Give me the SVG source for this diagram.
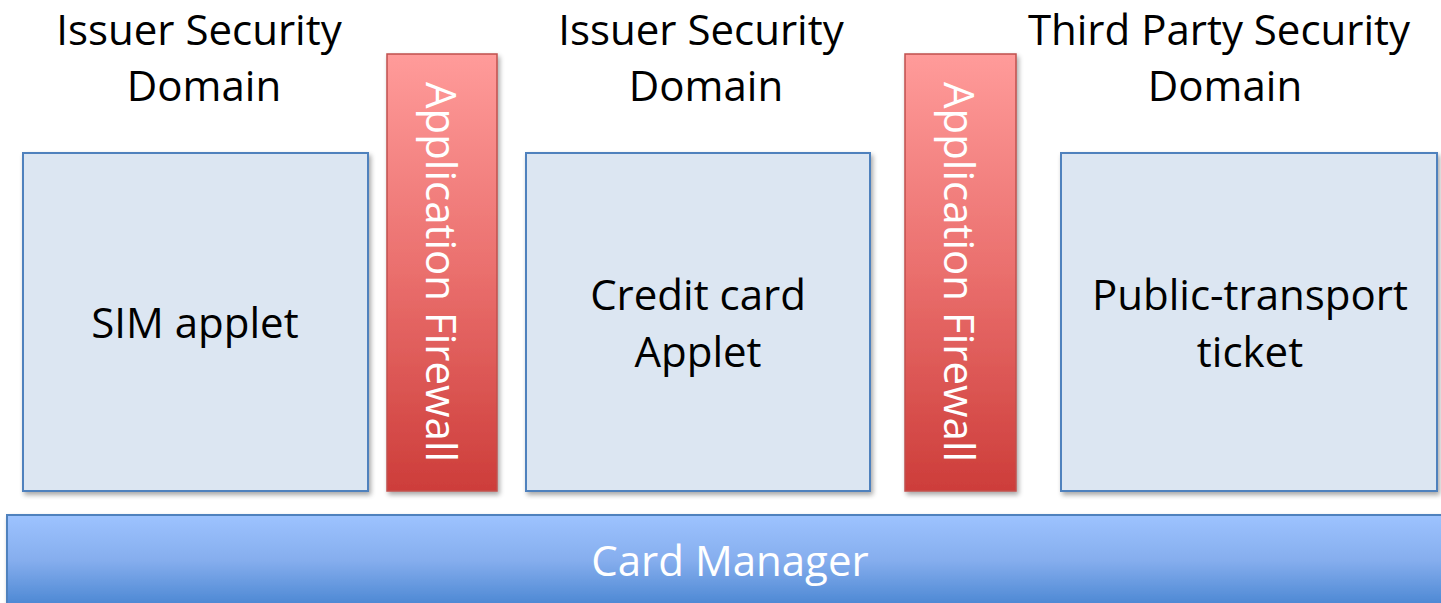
<svg xmlns="http://www.w3.org/2000/svg" width="1441" height="603" viewBox="0 0 1441 603">
  <defs>
    <linearGradient id="fwGrad" x1="0" y1="0" x2="0" y2="1">
      <stop offset="0" stop-color="#FF9B9A"/>
      <stop offset="0.5" stop-color="#EA6F6D"/>
      <stop offset="1" stop-color="#CD3D3A"/>
    </linearGradient>
    <linearGradient id="cmGrad" x1="0" y1="0" x2="0" y2="1">
      <stop offset="0" stop-color="#9DC3FF"/>
      <stop offset="0.45" stop-color="#86AEEE"/>
      <stop offset="1" stop-color="#3F7FCD"/>
    </linearGradient>
    <filter id="shadow" x="-10%" y="-10%" width="130%" height="130%">
      <feGaussianBlur in="SourceAlpha" stdDeviation="2.5"/>
      <feOffset dx="2" dy="3" result="b"/>
      <feComponentTransfer><feFuncA type="linear" slope="0.35"/></feComponentTransfer>
      <feMerge><feMergeNode/><feMergeNode in="SourceGraphic"/></feMerge>
    </filter>
  </defs>
  <style>
    .box { fill: #DCE6F2; stroke: #4F81BD; stroke-width: 2; filter: url(#shadow); }
    .fw { fill: url(#fwGrad); stroke: #C0504D; stroke-width: 1.5; filter: url(#shadow); }
    .cm { fill: url(#cmGrad); stroke: #4F81BD; stroke-width: 2; filter: url(#shadow); }
    .t { font-family: "Open Sans", "Liberation Sans", sans-serif; font-size: 42px; fill: #000; text-anchor: middle; }
    .w { fill: #FFFFFF; }
  </style>

  <rect width="1441" height="603" fill="#FFFFFF"/>

  <!-- domain headings -->
  <g id="domain-issuer-1">
    <text class="t" x="199" y="45">Issuer Security</text>
    <text class="t" x="204" y="101">Domain</text>
  </g>
  <g id="domain-issuer-2">
    <text class="t" x="701" y="45">Issuer Security</text>
    <text class="t" x="706" y="101">Domain</text>
  </g>
  <g id="domain-third-party">
    <text class="t" x="1219" y="45">Third Party Security</text>
    <text class="t" x="1225" y="101">Domain</text>
  </g>

  <!-- applets -->
  <g id="sim-applet">
    <rect class="box" x="23" y="153" width="345" height="338"/>
    <text class="t" x="195" y="338">SIM applet</text>
  </g>
  <g id="credit-card-applet">
    <rect class="box" x="526" y="153" width="344" height="338"/>
    <text class="t" x="698" y="310">Credit card</text>
    <text class="t" x="698" y="367">Applet</text>
  </g>
  <g id="public-transport-ticket">
    <rect class="box" x="1061" y="153" width="376" height="338"/>
    <text class="t" x="1250" y="310">Public-transport</text>
    <text class="t" x="1250" y="367">ticket</text>
  </g>

  <!-- firewalls -->
  <g id="firewall-1">
    <rect class="fw" x="387" y="54" width="110" height="437"/>
    <text class="t w" transform="translate(426 272) rotate(90)">Application Firewall</text>
  </g>
  <g id="firewall-2">
    <rect class="fw" x="905" y="54" width="111" height="437"/>
    <text class="t w" transform="translate(944 272) rotate(90)">Application Firewall</text>
  </g>

  <!-- card manager -->
  <g id="card-manager">
    <rect class="cm" x="7" y="515" width="1450" height="100"/>
    <text class="t w" x="730" y="576">Card Manager</text>
  </g>

  <g id="connectors"/>
</svg>
